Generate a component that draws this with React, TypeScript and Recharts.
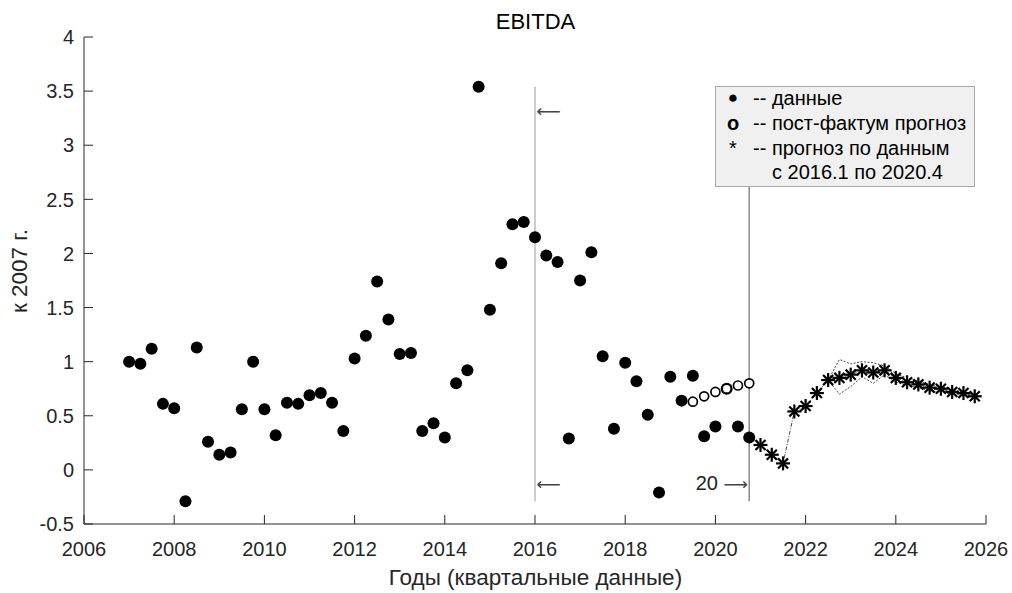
import React from 'react';
import { ComposedChart, XAxis, YAxis, Scatter, Line, ReferenceLine, ReferenceDot } from 'recharts';

// ---- data ----
const DATA_START = 2007; // first quarter (2007.1)
const dataValues = [
  1.00, 0.98, 1.12, 0.61,
  0.57, -0.29, 1.13, 0.26,
  0.14, 0.16, 0.56, 1.00,
  0.56, 0.32, 0.62, 0.61,
  0.69, 0.71, 0.62, 0.36,
  1.03, 1.24, 1.74, 1.39,
  1.07, 1.08, 0.36, 0.43,
  0.30, 0.80, 0.92, 3.54,
  1.48, 1.91, 2.27, 2.29,
  2.15, 1.98, 1.92, 0.29,
  1.75, 2.01, 1.05, 0.38,
  0.99, 0.82, 0.51, -0.21,
  0.86, 0.64, 0.87, 0.31,
  0.40, 0.75, 0.40, 0.30,
];
const POST_START = 2019.5;
const postFactumValues = [0.63, 0.68, 0.72, 0.75, 0.78, 0.80];
const FORECAST_START = 2020.75;
const forecastValues = [
  0.30, 0.23, 0.14, 0.06, 0.54, 0.59, 0.71, 0.83, 0.85, 0.88, 0.92,
  0.90, 0.92, 0.85, 0.81, 0.79, 0.76, 0.75, 0.72, 0.71, 0.68,
];
const BAND_START = 2022.5;
const bandUpper = [0.83, 1.02, 0.98, 1.00, 0.99, 0.96, 0.89, 0.85, 0.82, 0.79, 0.77, 0.74, 0.72, 0.69];
const bandLower = [0.83, 0.70, 0.77, 0.86, 0.80, 0.88, 0.81, 0.78, 0.76, 0.73, 0.72, 0.70, 0.69, 0.67];

const xTicks = [2006, 2008, 2010, 2012, 2014, 2016, 2018, 2020, 2022, 2024, 2026];
const yTicks = [-0.5, 0, 0.5, 1, 1.5, 2, 2.5, 3, 3.5, 4];
const CUTOFF_YEAR = 2016;
const LAST_DATA_YEAR = 2020.75;
const LEGEND_BOTTOM_Y = 2.62;

const legendItems = [
  { sym: '\u25CF', text: '-- данные' },
  { sym: 'o', text: '-- пост-фактум прогноз' },
  { sym: '*', text: '-- прогноз по данным' },
  { sym: '', text: 'с 2016.1 по 2020.4' },
];

const toSeries = (start: number, vals: number[]) => vals.map((v, i) => ({ x: start + i * 0.25, y: v }));

const dataSeries = toSeries(DATA_START, dataValues);
const postSeries = toSeries(POST_START, postFactumValues);
const forecastSeries = toSeries(FORECAST_START, forecastValues);
const starSeries = forecastSeries.slice(1);
const upperSeries = toSeries(BAND_START, bandUpper);
const lowerSeries = toSeries(BAND_START, bandLower);
const dataMin = Math.min(...dataValues);
const dataMax = Math.max(...dataValues);

const FONT = '"Liberation Sans", Arial, sans-serif';
const ARROW_FONT = '"DejaVu Sans", sans-serif';
const AXIS = '#262626';

const XTick = (props: any) => {
  const { x, y, payload } = props;
  const axisY = y - 25;
  return (
    <g>
      <line x1={x} x2={x} y1={axisY} y2={axisY - 9} stroke={AXIS} strokeWidth={1} />
      <text x={x} y={y} dy="0.36em" textAnchor="middle" fontSize={20} fontFamily={FONT} fill={AXIS}>
        {payload.value}
      </text>
    </g>
  );
};

const YTick = (props: any) => {
  const { x, y, payload } = props;
  const axisX = x + 10;
  return (
    <g>
      <line x1={axisX} x2={axisX + 9} y1={y} y2={y} stroke={AXIS} strokeWidth={1} />
      <text x={x} y={y} dy="0.36em" textAnchor="end" fontSize={20} fontFamily={FONT} fill={AXIS}>
        {payload.value}
      </text>
    </g>
  );
};

const DotShape = (p: any) => <circle cx={p.cx} cy={p.cy} r={6} fill="#000" />;
const OpenShape = (p: any) => (
  <circle cx={p.cx} cy={p.cy} r={4.5} fill="#fff" stroke="#000" strokeWidth={1.7} />
);
const StarShape = (p: any) => {
  const { cx, cy } = p;
  const r = 7;
  const d = r * 0.72;
  return (
    <g stroke="#000" strokeWidth={2.2}>
      <line x1={cx - r} x2={cx + r} y1={cy} y2={cy} />
      <line x1={cx} x2={cx} y1={cy - r} y2={cy + r} />
      <line x1={cx - d} x2={cx + d} y1={cy - d} y2={cy + d} />
      <line x1={cx - d} x2={cx + d} y1={cy + d} y2={cy - d} />
    </g>
  );
};

const LeftArrow = (p: any) => (
  <text x={p.cx} y={p.cy} dy="0.36em" textAnchor="start" fontSize={17} fontFamily={ARROW_FONT} fill="#444">
    {'\u27F5'}
  </text>
);
const CountLabel = (p: any) => (
  <text x={p.cx} y={p.cy} dy="0.36em" textAnchor="end" fill="#222">
    <tspan fontSize={20} fontFamily={FONT}>20 </tspan>
    <tspan fontSize={17} fontFamily={ARROW_FONT} fill="#444">{'\u27F6'}</tspan>
  </text>
);

const legendRowCenters = [11, 36, 61, 85];

export default function App() {
  return (
    <div style={{ position: 'absolute', left: 0, top: 0, width: 1012, height: 593, background: '#fff' }}>
      <ComposedChart width={1012} height={593} margin={{ top: 37, right: 26, bottom: 29, left: 24 }}>
        <XAxis
          dataKey="x"
          type="number"
          domain={[2006, 2026]}
          ticks={xTicks}
          allowDataOverflow
          height={40}
          tickSize={0}
          tickMargin={25}
          tickLine={false}
          axisLine={{ stroke: AXIS, strokeWidth: 1 }}
          tick={<XTick />}
          interval={0}
        />
        <YAxis
          dataKey="y"
          type="number"
          domain={[-0.5, 4]}
          ticks={yTicks}
          allowDataOverflow
          width={60}
          tickSize={0}
          tickMargin={10}
          tickLine={false}
          axisLine={{ stroke: AXIS, strokeWidth: 1 }}
          tick={<YTick />}
          interval={0}
        />
        <ReferenceLine
          segment={[{ x: CUTOFF_YEAR, y: dataMin }, { x: CUTOFF_YEAR, y: dataMax }]}
          stroke="#bdbdbd"
          strokeWidth={1.5}
        />
        <ReferenceLine
          segment={[{ x: LAST_DATA_YEAR, y: dataMin }, { x: LAST_DATA_YEAR, y: LEGEND_BOTTOM_Y }]}
          stroke="#8a8a8a"
          strokeWidth={1.5}
        />
        <ReferenceDot x={CUTOFF_YEAR + 0.03} y={3.32} r={0} shape={LeftArrow} />
        <ReferenceDot x={CUTOFF_YEAR + 0.03} y={-0.13} r={0} shape={LeftArrow} />
        <ReferenceDot x={LAST_DATA_YEAR - 0.03} y={-0.13} r={0} shape={CountLabel} />
        <Line
          data={upperSeries}
          dataKey="y"
          type="linear"
          stroke="#333"
          strokeWidth={0.9}
          strokeDasharray="2 1.5"
          dot={false}
          activeDot={false}
          isAnimationActive={false}
        />
        <Line
          data={lowerSeries}
          dataKey="y"
          type="linear"
          stroke="#333"
          strokeWidth={0.9}
          strokeDasharray="2 1.5"
          dot={false}
          activeDot={false}
          isAnimationActive={false}
        />
        <Line
          data={forecastSeries}
          dataKey="y"
          type="linear"
          stroke="#333"
          strokeWidth={0.9}
          strokeDasharray="4 1.5 1 1.5"
          dot={false}
          activeDot={false}
          isAnimationActive={false}
        />
        <Scatter data={dataSeries} dataKey="y" shape={DotShape} isAnimationActive={false} />
        <Scatter data={postSeries} dataKey="y" shape={OpenShape} isAnimationActive={false} />
        <Scatter data={starSeries} dataKey="y" shape={StarShape} isAnimationActive={false} />
      </ComposedChart>

      <div style={{ position: 'absolute', left: 0, width: 1071, top: 8, textAlign: 'center', fontFamily: FONT, fontSize: 22, color: '#000', lineHeight: '28px' }}>
        EBITDA
      </div>
      <div style={{ position: 'absolute', left: 0, width: 1071, top: 565, textAlign: 'center', fontFamily: FONT, fontSize: 22.5, color: AXIS, lineHeight: '26px' }}>
        Годы (квартальные данные)
      </div>
      <div
        style={{
          position: 'absolute',
          left: 20,
          top: 271,
          transform: 'translate(-50%, -50%) rotate(-90deg)',
          fontFamily: FONT,
          fontSize: 22.5,
          color: AXIS,
          whiteSpace: 'nowrap',
          lineHeight: '24px',
        }}
      >
        к 2007 г.
      </div>

      <div
        style={{
          position: 'absolute',
          left: 715,
          top: 86,
          width: 258,
          height: 99,
          background: '#f0f0f0',
          border: '1px solid #a8a8a8',
          fontFamily: FONT,
          fontSize: 20,
          color: '#000',
        }}
      >
        {legendItems.map((item, i) => (
          <div key={i} style={{ position: 'absolute', top: legendRowCenters[i] - 12, left: 0, height: 24, lineHeight: '24px', whiteSpace: 'nowrap' }}>
            <span style={{ position: 'absolute', left: 9, width: 16, textAlign: 'center', fontWeight: i === 1 ? 700 : 400, fontSize: i === 0 ? 17 : 20 }}>{item.sym}</span>
            <span style={{ position: 'absolute', left: i === 3 ? 56 : 37 }}>{item.text}</span>
          </div>
        ))}
      </div>
    </div>
  );
}
